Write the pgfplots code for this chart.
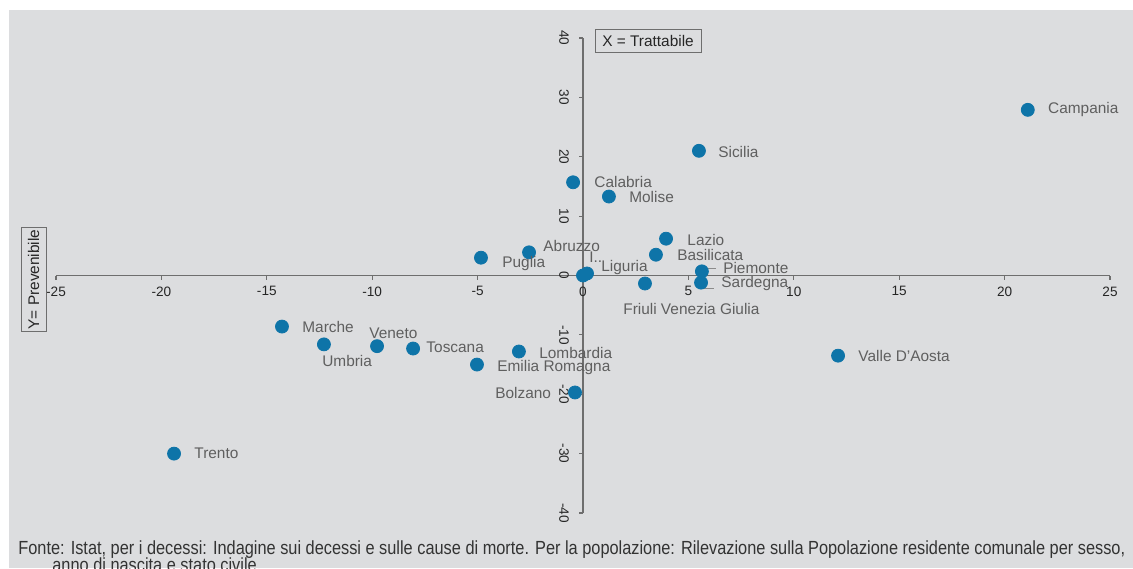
\documentclass[border=0pt]{standalone}
\usepackage{fontspec}
\setmainfont{Liberation Sans}
\newfontfamily\condfont[FakeStretch=0.86]{Liberation Sans}
\usepackage{pgfplots}
\pgfplotsset{compat=1.18}
\definecolor{bg}{RGB}{220,221,223}
\definecolor{ptc}{RGB}{14,116,168}
\definecolor{labc}{RGB}{95,95,95}
\definecolor{axc}{RGB}{110,110,110}

% \pt{x}{y}{label dx px}{label dy px (up)}{label}
\newcommand\pt[5]{%
  \addplot[only marks, mark=*, mark size=3.25pt,
    mark options={fill=ptc, draw=ptc},
    nodes near coords={#5},
    every node near coord/.style={anchor=west, inner sep=0pt,
      xshift=#3*0.5pt, yshift=#4*0.5pt,
      font=\fontsize{7.7pt}{9pt}\selectfont, text=labc}]
    coordinates {(#1,#2)};}

\begin{document}
\begin{tikzpicture}
\useasboundingbox (0,0) rectangle (566.5pt,284pt);
\fill[white] (0,0) rectangle (566.5pt,284pt);
\fill[bg] (4.5pt,0) rectangle (566.5pt,279pt);
\begin{axis}[
  at={(28pt,27.5pt)}, anchor=south west,
  scale only axis, width=527pt, height=237.5pt,
  xmin=-25, xmax=25, ymin=-40, ymax=40,
  axis lines=middle,
  axis line style={-, draw=axc, line width=0.6pt},
  xtick={-25,-20,...,25}, ytick={-40,-30,...,40},
  hide obscured x ticks=false, hide obscured y ticks=false,
  tick align=outside, major tick length=2pt,
  tick style={draw=axc, line width=0.6pt},
  ticklabel style={font=\fontsize{6.8pt}{8pt}\selectfont, text=black!85},
  /pgf/number format/assume math mode=true,
  yticklabel style={rotate=-90, anchor=north},
  yticklabel shift=1.5pt,
  clip=false,
]
\pt{21.1}{27.9}{20}{0}{Campania}
\pt{5.5}{21.0}{19}{-1}{Sicilia}
\pt{-0.47}{15.7}{21}{0}{Calabria}
\pt{1.23}{13.3}{20}{0}{Molise}
\pt{3.94}{6.2}{21}{-1}{Lazio}
\pt{3.46}{3.5}{21}{0}{Basilicata}
\pt{-2.56}{3.9}{14}{6}{Abruzzo}
\pt{-4.84}{3.0}{21}{-6}{Puglia}
\pt{0.0}{0.0}{6}{18}{I..}
\pt{0.19}{0.34}{14}{6}{Liguria}
\pt{5.64}{0.7}{21}{3}{Piemonte}
\pt{5.6}{-1.2}{20}{-1}{Sardegna}
\pt{2.94}{-1.35}{-22}{-25}{Friuli Venezia Giulia}
\pt{-14.28}{-8.6}{20}{0}{Marche}
\pt{-12.29}{-11.6}{-2}{-17}{Umbria}
\pt{-9.77}{-11.9}{-8}{13}{Veneto}
\pt{-8.06}{-12.3}{13}{1}{Toscana}
\pt{-3.04}{-12.8}{20}{-1}{Lombardia}
\pt{-5.03}{-15.0}{20}{-3}{Emilia Romagna}
\pt{-0.38}{-19.7}{-80}{-1}{Bolzano}
\pt{12.1}{-13.5}{20}{0}{Valle D'Aosta}
\pt{-19.4}{-30.0}{20}{0}{Trento}
\draw[axc!80, line width=0.5pt] (axis cs:5.79,1.18) -- (axis cs:6.31,1.18);
\draw[axc!80, line width=0.5pt] (axis cs:5.65,-1.52) -- (axis cs:5.65,-2.19) -- (axis cs:6.21,-2.19);
\end{axis}
\node[draw=axc, line width=0.5pt, minimum width=53pt, minimum height=11.5pt, inner sep=0pt,
  font=\fontsize{7.7pt}{9pt}\selectfont, text=black!85] at (324pt,263.25pt) {X = Trattabile};
\node[draw=axc, line width=0.5pt, rotate=90, minimum width=51.5pt, minimum height=12.5pt, inner sep=0pt,
  font=\fontsize{7.7pt}{9pt}\selectfont, text=black!85] at (16.75pt,144.25pt) {Y= Prevenibile};
\node[anchor=base west, inner sep=0pt, font=\condfont\fontsize{9.5pt}{10pt}\selectfont, text=black!80]
  at (9pt,7pt) {Fonte: Istat, per i decessi: Indagine sui decessi e sulle cause di morte. Per la popolazione: Rilevazione sulla Popolazione residente comunale per sesso,};
\node[anchor=base west, inner sep=0pt, font=\condfont\fontsize{9.5pt}{10pt}\selectfont, text=black!80]
  at (26pt,-1.5pt) {anno di nascita e stato civile.};
\end{tikzpicture}
\end{document}
